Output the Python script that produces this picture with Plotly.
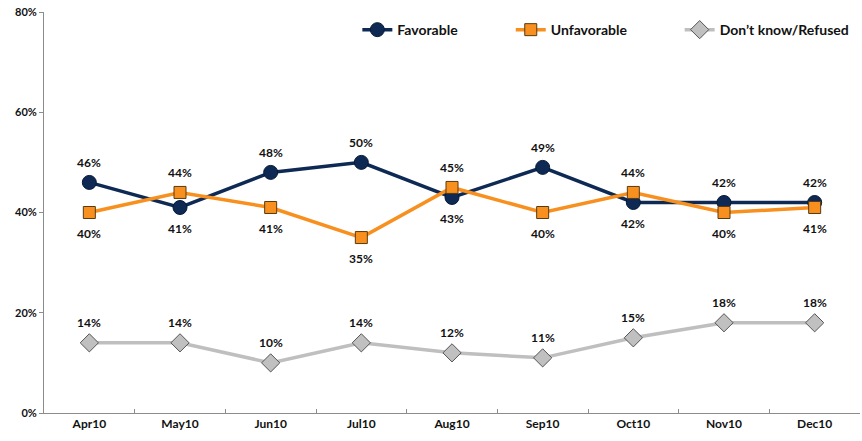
import plotly.graph_objects as go

months = ["Apr10", "May10", "Jun10", "Jul10", "Aug10", "Sep10", "Oct10", "Nov10", "Dec10"]
favorable = [46, 41, 48, 50, 43, 49, 42, 42, 42]
unfavorable = [40, 44, 41, 35, 45, 40, 44, 40, 41]
dont_know = [14, 14, 10, 14, 12, 11, 15, 18, 18]
fav_label_pos = ["above", "below", "above", "above", "below", "above", "below", "above", "above"]
unf_label_pos = ["below", "above", "below", "below", "above", "below", "above", "below", "below"]
dk_label_pos = ["above"] * 9
y_ticks = [0, 20, 40, 60, 80]

FONT = "Lato, 'Open Sans', Arial, sans-serif"
NAVY = "#0E2A54"
ORANGE = "#F7901E"
GRAY = "#BFBFBF"

fig = go.Figure()
fig.add_trace(go.Scatter(
    x=months, y=favorable, name="<b>Favorable</b>", mode="lines+markers", legend="legend",
    line=dict(color=NAVY, width=3.5),
    marker=dict(symbol="circle", size=14, color=NAVY, line=dict(color="#061a36", width=1)),
))
fig.add_trace(go.Scatter(
    x=months, y=unfavorable, name="<b>Unfavorable</b>", mode="lines+markers", legend="legend2",
    line=dict(color=ORANGE, width=3.5),
    marker=dict(symbol="square", size=12, color=ORANGE, line=dict(color="#5a3a10", width=1)),
))
fig.add_trace(go.Scatter(
    x=months, y=dont_know, name="<b>Don\u2019t know/Refused</b>", mode="lines+markers", legend="legend3",
    line=dict(color=GRAY, width=3.5),
    marker=dict(symbol="diamond", size=14, color="#C0C0C0", line=dict(color="#555555", width=1)),
))

annotations = []
for vals, poss in [(favorable, fav_label_pos), (unfavorable, unf_label_pos), (dont_know, dk_label_pos)]:
    for m, v, p in zip(months, vals, poss):
        annotations.append(dict(
            x=m, y=v, text=f"<b>{v}%</b>", showarrow=False,
            yshift=20 if p == "above" else -21,
            font=dict(family=FONT, size=12, color="#111111"),
        ))

def leg(x):
    return dict(
        orientation="h", x=x, xanchor="left", y=0.955, yanchor="middle",
        font=dict(family=FONT, size=14, color="#111111"),
        bgcolor="rgba(0,0,0,0)", itemwidth=30,
    )

fig.update_layout(
    width=862, height=441,
    margin=dict(l=44, r=2, t=12, b=28),
    paper_bgcolor="white", plot_bgcolor="white",
    font=dict(family=FONT, size=12, color="#111111"),
    showlegend=True,
    legend=leg(0.384), legend2=leg(0.572), legend3=leg(0.779),
    annotations=annotations,
    xaxis=dict(
        type="category", categoryorder="array", categoryarray=months,
        showgrid=False, showline=True, linecolor="#8c8c8c", linewidth=1,
        ticks="inside", tickson="boundaries", ticklen=4, tickcolor="#8c8c8c",
        tickfont=dict(family=FONT, size=12, color="#111111"),
        tickvals=months, ticktext=[f"<b>{m}</b>" for m in months],
        range=[-0.5, len(months) - 0.5], zeroline=False, automargin=False,
    ),
    yaxis=dict(
        range=[0, 80], tickvals=y_ticks, ticktext=[f"<b>{t}%</b>" for t in y_ticks],
        showgrid=False, showline=True, linecolor="#8c8c8c", linewidth=1,
        ticks="outside", ticklen=4, tickcolor="#8c8c8c",
        tickfont=dict(family=FONT, size=11, color="#111111"),
        zeroline=False, automargin=False,
    ),
)

fig.write_html("out.html", config={"displayModeBar": False},
               post_script="document.body.style.margin='0';")
